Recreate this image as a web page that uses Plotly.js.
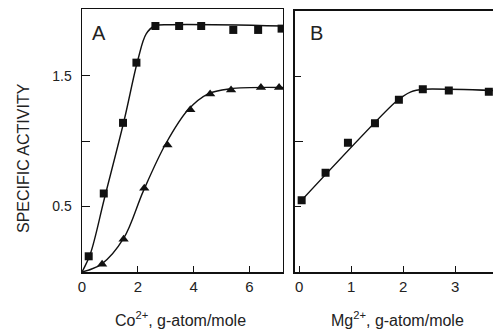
<!DOCTYPE html>
<html><head><meta charset="utf-8">
<script src="https://cdn.plot.ly/plotly-3.0.1.min.js"></script>
<style>html,body{margin:0;padding:0;background:#fff;}#chart{width:493px;height:331px;}</style>
</head><body><div id="chart"></div>
<script>
// Panel A: Co2+ (squares)
const coSqX = [0.24, 0.78, 1.47, 1.95, 2.63, 3.48, 4.27, 5.42, 6.31, 7.15];
const coSqY = [0.12, 0.60, 1.14, 1.60, 1.88, 1.88, 1.88, 1.85, 1.85, 1.86];
// Panel A: Co2+ (triangles)
const coTrX = [0.72, 1.49, 2.23, 3.06, 3.88, 4.59, 5.34, 6.41, 7.06];
const coTrY = [0.06, 0.25, 0.64, 0.97, 1.24, 1.36, 1.39, 1.41, 1.41];
// Fitted curves
const coSqCurveX = [0, 0.3, 0.8, 1.5, 2.0, 2.3, 2.6, 3.2, 7.2];
const coSqCurveY = [0, 0.14, 0.56, 1.15, 1.62, 1.82, 1.88, 1.89, 1.88];
const coTrCurveX = [0, 0.7, 1.5, 2.2, 3.0, 3.8, 4.5, 5.3, 7.2];
const coTrCurveY = [0, 0.06, 0.26, 0.62, 0.98, 1.24, 1.36, 1.40, 1.41];
// Panel B: Mg2+
const mgX = [0.05, 0.51, 0.94, 1.46, 1.92, 2.38, 2.88, 3.65];
const mgY = [0.55, 0.76, 0.99, 1.14, 1.32, 1.40, 1.39, 1.38];
const mgCurveX = [0.05, 1.85, 2.15, 2.4, 3.75];
const mgCurveY = [0.55, 1.30, 1.38, 1.40, 1.39];

const yTickVals = [0.5, 1.5];
const yTickText = ["0.5", "1.5"];
const yMinorVals = [1.0];
const xATickVals = [0, 2, 4, 6];
const xBTickVals = [0, 1, 2, 3];
const xATitle = 'Co<sup>2+</sup>, g-atom/mole';
const xBTitle = 'Mg<sup>2+</sup>, g-atom/mole';
const yTitle = 'SPECIFIC ACTIVITY';

const black = '#111';
const txt = '#222';
const fam = 'Liberation Sans, Arial, sans-serif';

const traces = [
  {x: coSqCurveX, y: coSqCurveY, mode: 'lines', line: {color: black, width: 1.4, shape: 'spline', smoothing: 1}, xaxis: 'x', yaxis: 'y'},
  {x: coTrCurveX, y: coTrCurveY, mode: 'lines', line: {color: black, width: 1.4, shape: 'spline', smoothing: 1}, xaxis: 'x', yaxis: 'y'},
  {x: coSqX, y: coSqY, mode: 'markers', marker: {symbol: 'square', size: 8, color: black}, xaxis: 'x', yaxis: 'y'},
  {x: coTrX, y: coTrY, mode: 'markers', marker: {symbol: 'triangle-up', size: 9, color: black}, xaxis: 'x', yaxis: 'y'},
  {x: mgCurveX, y: mgCurveY, mode: 'lines', line: {color: black, width: 1.4, shape: 'spline', smoothing: 0.6}, xaxis: 'x2', yaxis: 'y2'},
  {x: mgX, y: mgY, mode: 'markers', marker: {symbol: 'square', size: 8, color: black}, xaxis: 'x2', yaxis: 'y2'}
];

const axCommon = {showline: true, mirror: true, linecolor: black, linewidth: 1.5, showgrid: false, zeroline: false,
  ticks: 'inside', ticklen: 6, tickcolor: black, tickwidth: 1};
const yMinor = {tickmode: 'array', tickvals: yMinorVals, ticks: 'inside', ticklen: 8, tickcolor: black, tickwidth: 1, showgrid: false};

const layout = {
  width: 493, height: 331,
  margin: {l: 82, r: 0, t: 9, b: 59},
  paper_bgcolor: '#fff', plot_bgcolor: '#fff',
  showlegend: false,
  font: {family: fam, color: txt},
  xaxis: Object.assign({}, axCommon, {domain: [0, 0.489], range: [0, 7.2], tickvals: xATickVals,
    tickfont: {size: 15, color: txt}, anchor: 'y'}),
  yaxis: Object.assign({}, axCommon, {domain: [0, 1], range: [0, 2.01], tickvals: yTickVals, ticktext: yTickText,
    tickfont: {size: 14, color: txt}, ticklen: 8, ticklabelstandoff: 6, minor: yMinor, anchor: 'x'}),
  xaxis2: Object.assign({}, axCommon, {domain: [0.518, 1], range: [-0.08, 3.73], tickvals: xBTickVals,
    tickfont: {size: 15, color: txt}, anchor: 'y2'}),
  yaxis2: Object.assign({}, axCommon, {domain: [0, 0.993], range: [0, 2.0], tickvals: yTickVals, showticklabels: false,
    minor: yMinor, anchor: 'x2'}),
  annotations: [
    {text: 'A', xref: 'paper', yref: 'paper', x: 0.02, y: 0.96, xanchor: 'left', yanchor: 'top', showarrow: false, font: {size: 20, color: txt}},
    {text: 'B', xref: 'paper', yref: 'paper', x: 0.55, y: 0.96, xanchor: 'left', yanchor: 'top', showarrow: false, font: {size: 20, color: txt}},
    {text: xATitle, xref: 'paper', yref: 'paper', x: (180 - 82) / 411, y: -0.178, xanchor: 'center', yanchor: 'middle', showarrow: false, font: {size: 16, color: txt}},
    {text: xBTitle, xref: 'paper', yref: 'paper', x: (397 - 82) / 411, y: -0.178, xanchor: 'center', yanchor: 'middle', showarrow: false, font: {size: 16, color: txt}},
    {text: yTitle, xref: 'paper', yref: 'paper', x: (23 - 82) / 411, y: (272 - 158) / 263, xanchor: 'center', yanchor: 'middle', textangle: -90, showarrow: false, font: {size: 16, color: txt}}
  ]
};

Plotly.newPlot('chart', traces, layout, {displayModeBar: false, staticPlot: true});
</script>
</body></html>
